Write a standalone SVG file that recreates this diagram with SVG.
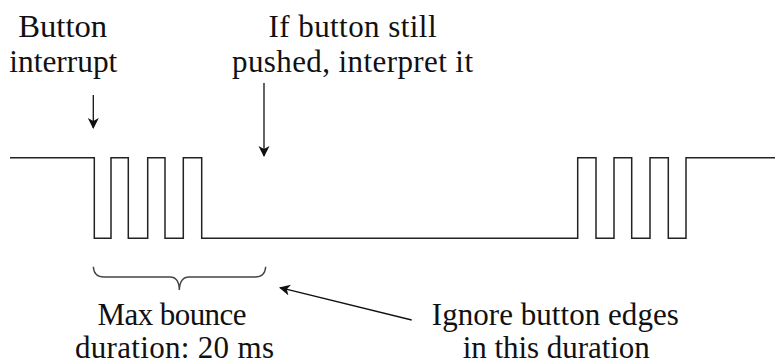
<svg xmlns="http://www.w3.org/2000/svg" width="777" height="364" viewBox="0 0 777 364">
<style>
  text { font-family: 'Liberation Serif', serif; font-size: 31px; fill: #111; text-anchor: middle; }
  .w { fill: none; stroke: #222; stroke-width: 1.5; }
  .a { fill: none; stroke: #111; stroke-width: 1.3; marker-end: url(#ah); }
  .b { fill: none; stroke: #444; stroke-width: 1.4; }
</style>
<defs>
  <marker id="ah" markerWidth="12" markerHeight="12" refX="10" refY="5.5" orient="auto" markerUnits="userSpaceOnUse">
    <path d="M0,0 L11,5.5 L0,11 L3,5.5 Z" fill="#111"/>
  </marker>
</defs>
<rect width="777" height="364" fill="#fff"/>
<g id="waveform">
  <path class="w" d="M10,157.7 H94.3 V238.3 H111 V157.7 H128.3 V238.3 H147.7 V157.7 H165 V238.3 H183.3 V157.7 H201.7 V238.3 H577.7 V157.7 H596 V238.3 H614 V157.7 H631.7 V238.3 H650 V157.7 H668.3 V238.3 H686 V157.7 H775"/>
</g>
<g id="brace">
  <path class="b" d="M93.3,266.7 Q94,277 104,277 H170 Q179,277 179.3,290 Q180,277 189,277 H255 Q265,277 265.7,266.7"/>
</g>
<g id="label-interrupt" font-family="Liberation Serif">
  <text x="62.7" y="36.5" textLength="89" lengthAdjust="spacingAndGlyphs">Button</text>
  <text x="63.3" y="72" textLength="108" lengthAdjust="spacingAndGlyphs">interrupt</text>
</g>
<g id="label-still">
  <text x="352.5" y="36.5" textLength="168" lengthAdjust="spacing">If button still</text>
  <text x="352.5" y="72" textLength="241" lengthAdjust="spacing">pushed, interpret it</text>
</g>
<g id="label-bounce">
  <text x="172" y="325" textLength="149" lengthAdjust="spacing">Max bounce</text>
  <text x="174.5" y="358" textLength="199" lengthAdjust="spacing">duration: 20 ms</text>
</g>
<g id="label-ignore">
  <text x="555.3" y="325" textLength="247" lengthAdjust="spacing">Ignore button edges</text>
  <text x="556.3" y="358" textLength="187" lengthAdjust="spacing">in this duration</text>
</g>
<g id="connectors">
  <line class="a" x1="93.3" y1="95" x2="93.3" y2="128"/>
  <line class="a" x1="264" y1="83" x2="264" y2="156"/>
  <line class="a" x1="411.7" y1="320" x2="280" y2="287.7"/>
</g>
</svg>
